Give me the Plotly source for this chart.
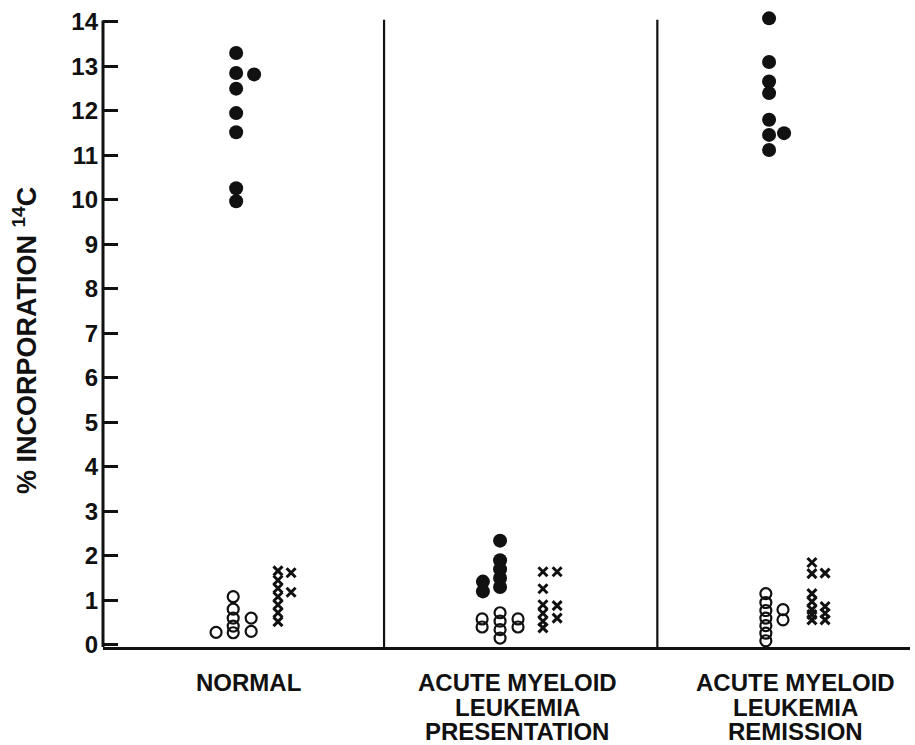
import plotly.graph_objects as go

# ---- data ----
group_lines = [["NORMAL"],
               ["ACUTE MYELOID", "LEUKEMIA", "PRESENTATION"],
               ["ACUTE MYELOID", "LEUKEMIA", "REMISSION"]]
group_pos = [0, 1, 2]
label_pos = [-0.007, 0.998, 2.034]
y_ticks = list(range(0, 15))
y_ticktext = ["<b>%d</b>" % v for v in y_ticks]
separators = [0.5, 1.52]

# filled circles: (group, column offset, value)
filled_group = [0]*8 + [1]*7 + [2]*8
filled_off = [-0.052]*7 + [0.015] + [-0.067]*5 + [-0.131]*2 + [-0.063]*7 + [-0.007]
filled_val = [13.3, 12.85, 12.5, 11.95, 11.52, 10.26, 9.97, 12.82,
              2.34, 1.9, 1.7, 1.5, 1.3, 1.42, 1.2,
              14.08, 13.1, 12.66, 12.4, 11.8, 11.46, 11.12, 11.5]

# open circles
open_group = [0]*8 + [1]*8 + [2]*9
open_off = [-0.127] + [-0.063]*5 + [0.004]*2 + \
           [-0.067]*4 + [-0.134]*2 + [0.0]*2 + \
           [-0.075]*7 + [-0.011]*2
open_val = [0.28, 1.08, 0.8, 0.6, 0.42, 0.27, 0.6, 0.3,
            0.72, 0.53, 0.34, 0.15, 0.58, 0.4, 0.58, 0.4,
            1.15, 0.95, 0.77, 0.6, 0.43, 0.26, 0.09, 0.79, 0.56]

# crosses
cross_group = [0]*9 + [1]*9 + [2]*11
cross_off = [0.104]*7 + [0.153]*2 + \
            [0.093]*6 + [0.146]*3 + \
            [0.097]*7 + [0.146]*4
cross_val = [1.66, 1.45, 1.27, 1.08, 0.9, 0.72, 0.52, 1.62, 1.18,
             1.64, 1.26, 0.9, 0.71, 0.53, 0.38, 1.64, 0.88, 0.6,
             1.85, 1.6, 1.15, 0.97, 0.79, 0.56, 0.68, 1.61, 0.86, 0.71, 0.56]

y_title = "% INCORPORATION <sup>14</sup>C"
y_top = 14

def xs(groupsel, offs):
    return [group_pos[g] + o for g, o in zip(groupsel, offs)]

ink = "#111111"
fig = go.Figure()
fig.add_trace(go.Scatter(x=xs(filled_group, filled_off), y=filled_val, mode="markers",
                         cliponaxis=False,
                         marker=dict(symbol="circle", size=14, color=ink,
                                     line=dict(width=0)), showlegend=False))
fig.add_trace(go.Scatter(x=xs(open_group, open_off), y=open_val, mode="markers",
                         cliponaxis=False,
                         marker=dict(symbol="circle-open", size=11, color=ink,
                                     line=dict(width=2.2)), showlegend=False))
fig.add_trace(go.Scatter(x=xs(cross_group, cross_off), y=cross_val, mode="markers",
                         cliponaxis=False,
                         marker=dict(symbol="x-thin-open", size=9, color=ink,
                                     line=dict(width=3, color=ink)), showlegend=False))

# y axis line (stops at the top tick) and group separators
fig.add_shape(type="line", xref="paper", yref="y", x0=0, x1=0, y0=-0.05, y1=y_top + 0.03,
              line=dict(color=ink, width=3))
for s in separators:
    fig.add_shape(type="line", xref="x", yref="y", x0=s, x1=s, y0=-0.05, y1=y_top + 0.05,
                  line=dict(color=ink, width=2.2))

font_family = "Liberation Sans, Arial, sans-serif"
line_offsets = [35, 60, 84]  # pixels below axis for each label line (center)
for lx, lines in zip(label_pos, group_lines):
    for i, t in enumerate(lines):
        fig.add_annotation(x=lx, xref="x", y=-0.05, yref="y", text="<b>" + t + "</b>",
                           showarrow=False, xanchor="center", yanchor="middle",
                           yshift=-line_offsets[i], font=dict(size=24, color=ink))

fig.add_annotation(x=0, xref="paper", y=6.83, yref="y", text="<b>" + y_title + "</b>",
                   showarrow=False, textangle=-90, xanchor="center", yanchor="middle",
                   xshift=-78, font=dict(size=27, color=ink))

fig.update_layout(
    width=915, height=745,
    margin=dict(l=103, r=5, t=13, b=98),
    paper_bgcolor="white", plot_bgcolor="white",
    font=dict(family=font_family, color=ink, size=20),
    xaxis=dict(range=[-0.549, 2.463], showticklabels=False,
               showgrid=False, zeroline=False, showline=True, linecolor=ink,
               linewidth=3, ticks=""),
    yaxis=dict(range=[-0.05, 14.2], tickvals=y_ticks, ticktext=y_ticktext,
               showgrid=False, zeroline=False, showline=False,
               ticks="inside", ticklen=15, tickwidth=2.5, tickcolor=ink,
               tickfont=dict(size=24, family="Liberation Sans Narrow, Liberation Sans, Arial"),
               ticklabelstandoff=4),
)

fig.write_html("out.html")
